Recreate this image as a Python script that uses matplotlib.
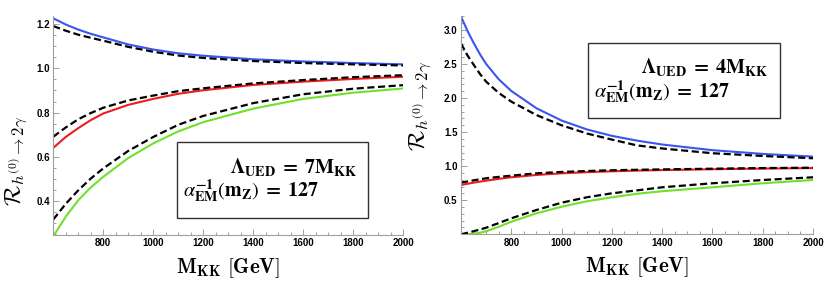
import matplotlib
matplotlib.use('Agg')
import matplotlib.pyplot as plt
from matplotlib.ticker import MultipleLocator, FixedLocator

plt.rcParams['mathtext.fontset'] = 'cm'

# --- data ---
m_left = [600, 650, 700, 750, 800, 900, 1000, 1100, 1200, 1400, 1600, 1800, 2000]
blue_left = [1.226, 1.198, 1.175, 1.156, 1.140, 1.108, 1.085, 1.068, 1.057, 1.041, 1.031, 1.024, 1.018]
blue_left_dash = [1.191, 1.170, 1.152, 1.138, 1.125, 1.097, 1.075, 1.058, 1.047, 1.033, 1.024, 1.018, 1.013]
red_left = [0.641, 0.690, 0.730, 0.766, 0.796, 0.835, 0.862, 0.885, 0.901, 0.925, 0.940, 0.952, 0.962]
red_left_dash = [0.691, 0.733, 0.770, 0.798, 0.822, 0.855, 0.877, 0.897, 0.910, 0.932, 0.947, 0.960, 0.969]
green_left = [0.241, 0.330, 0.404, 0.462, 0.510, 0.595, 0.661, 0.715, 0.757, 0.818, 0.862, 0.890, 0.909]
green_left_dash = [0.317, 0.388, 0.449, 0.502, 0.548, 0.627, 0.690, 0.745, 0.785, 0.843, 0.883, 0.908, 0.924]

m_right = [600, 625, 650, 675, 700, 750, 800, 900, 1000, 1100, 1200, 1300, 1400, 1600, 1800, 2000]
blue_right = [3.196, 2.990, 2.810, 2.645, 2.500, 2.275, 2.104, 1.850, 1.670, 1.540, 1.445, 1.375, 1.318, 1.235, 1.180, 1.140]
blue_right_dash = [2.800, 2.630, 2.490, 2.355, 2.240, 2.075, 1.947, 1.750, 1.600, 1.480, 1.390, 1.305, 1.260, 1.190, 1.150, 1.116]
red_right = [0.724, 0.741, 0.758, 0.773, 0.787, 0.814, 0.837, 0.871, 0.895, 0.912, 0.925, 0.935, 0.943, 0.955, 0.965, 0.972]
red_right_dash = [0.758, 0.775, 0.792, 0.808, 0.822, 0.843, 0.861, 0.895, 0.915, 0.929, 0.940, 0.947, 0.953, 0.963, 0.972, 0.978]
green_right = [0.000, 0.002, 0.008, 0.022, 0.045, 0.110, 0.185, 0.308, 0.405, 0.484, 0.543, 0.595, 0.632, 0.690, 0.749, 0.797]
green_right_dash = [0.000, 0.022, 0.045, 0.070, 0.097, 0.165, 0.235, 0.357, 0.464, 0.543, 0.602, 0.645, 0.690, 0.749, 0.797, 0.837]

x_major = [800, 1000, 1200, 1400, 1600, 1800, 2000]
left_yticks = [0.4, 0.6, 0.8, 1.0, 1.2]
right_yticks = [0.5, 1.0, 1.5, 2.0, 2.5, 3.0]

BLUE = '#3a55f0'
RED = '#ee1c1c'
GREEN = '#6ee22a'

ylabel = r'$\mathcal{R}_{h^{(0)}\to 2\gamma}$'
xlabel = r'$\mathbf{M_{KK}}\ \mathbf{[GeV]}$'
alpha_txt = r'$\alpha^{\mathbf{-1}}_{\mathbf{EM}}(\mathbf{m_Z})\mathbf{\;=\;127}$'

fig = plt.figure(figsize=(8.31, 2.84), dpi=100)
ax1 = fig.add_axes([0.0641, 0.1725, 0.4212, 0.770])
ax2 = fig.add_axes([0.5548, 0.175, 0.4236, 0.770])


def style_axis(ax, ylim, yticks, yminor, label_y):
    ax.set_xlim(600, 2000)
    ax.set_ylim(*ylim)
    for s in ['top', 'right']:
        ax.spines[s].set_visible(False)
    for s in ['left', 'bottom']:
        ax.spines[s].set_color('#a0a0a0')
        ax.spines[s].set_linewidth(0.8)
    ax.xaxis.set_major_locator(FixedLocator(x_major))
    ax.xaxis.set_minor_locator(MultipleLocator(50))
    ax.yaxis.set_major_locator(FixedLocator(yticks))
    ax.yaxis.set_minor_locator(MultipleLocator(yminor))
    ax.tick_params(which='both', direction='in', color='#a0a0a0', width=0.7)
    ax.tick_params(which='major', length=4, labelsize=7, pad=2.5)
    ax.tick_params(which='minor', length=2.2)
    for lab in ax.get_xticklabels() + ax.get_yticklabels():
        lab.set_fontfamily('Liberation Sans')
        lab.set_fontweight('bold')
    ax.set_xlabel(xlabel, fontsize=15, va='center')
    ax.xaxis.set_label_coords(0.5, -0.152)
    ax.set_ylabel(ylabel, fontsize=17, va='center')
    ax.yaxis.set_label_coords(*label_y)


def box(ax, lam_txt, x0, y0, w, h, y1, y2):
    ax.add_patch(plt.Rectangle((x0, y0), w, h, transform=ax.transAxes,
                               fill=False, ec='#333333', lw=1.0))
    ax.text(x0 + w - 0.032, y1, lam_txt, transform=ax.transAxes, ha='right',
            va='center', fontsize=14.5, math_fontfamily='stix')
    ax.text(x0 + 0.018, y2, alpha_txt, transform=ax.transAxes, ha='left',
            va='center', fontsize=14.5, math_fontfamily='stix')


# left panel
ax1.plot(m_left, blue_left, color=BLUE, lw=1.5)
ax1.plot(m_left, red_left, color=RED, lw=1.5)
ax1.plot(m_left, green_left, color=GREEN, lw=1.5)
for vals in [blue_left_dash, red_left_dash, green_left_dash]:
    ax1.plot(m_left, vals, color='black', lw=1.6, dashes=(3.2, 1.6))
style_axis(ax1, (0.247, 1.235), left_yticks, 0.05, (-0.104, 0.34))
box(ax1, r'$\mathbf{\Lambda_{UED}\;=\;7M_{KK}}$', 0.354, 0.078, 0.546, 0.347, 0.311, 0.201)

# right panel
ax2.plot(m_right, blue_right, color=BLUE, lw=1.5)
ax2.plot(m_right, red_right, color=RED, lw=1.5)
ax2.plot(m_right, green_right, color=GREEN, lw=1.5)
for vals in [blue_right_dash, red_right_dash, green_right_dash]:
    ax2.plot(m_right, vals, color='black', lw=1.6, dashes=(3.2, 1.6))
style_axis(ax2, (0.0, 3.21), right_yticks, 0.1, (-0.116, 0.587))
box(ax2, r'$\mathbf{\Lambda_{UED}\;=\;4M_{KK}}$', 0.361, 0.532, 0.545, 0.343, 0.765, 0.651)

fig.savefig('out.png', dpi=100)
